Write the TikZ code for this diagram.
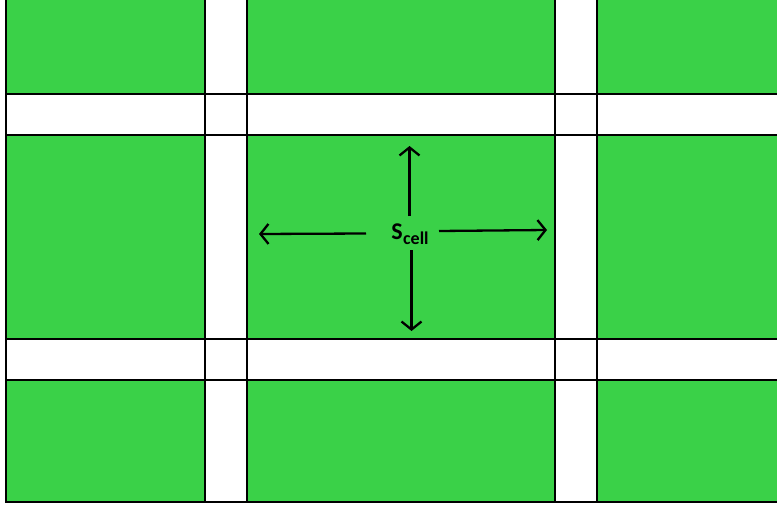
\documentclass[tikz,border=0pt]{standalone}
\usepackage{fontspec}
\setmainfont{Carlito}
\usetikzlibrary{arrows.meta}
\definecolor{cellgreen}{RGB}{58,209,72}
\tikzset{
  gridline/.style={line width=2.8pt, black},
  dimarrow/.style={line width=2.3pt, -{Straight Barb[length=8pt,width=20pt,line width=2.3pt]}},
}
\begin{document}
\begin{tikzpicture}[x=1pt,y=-1pt]
\useasboundingbox (0,0) rectangle (777,511);
% green base
\fill[cellgreen] (6,0) rectangle (777,502);
% white strips
\fill[white] (6,94) rectangle (777,135);
\fill[white] (6,339) rectangle (777,380);
\fill[white] (205,0) rectangle (247,502);
\fill[white] (555,0) rectangle (597,502);
% grid lines
\foreach \yy in {94,135,339,380,502} \draw[gridline] (6,\yy) -- (777,\yy);
\foreach \xx in {205,247,555,597} \draw[gridline] (\xx,0) -- (\xx,502);
\draw[gridline] (6,0) -- (6,503.4);
% label and arrows
\node[font=\bfseries\fontsize{24}{24}\selectfont, inner sep=0pt] (s) at (410,234) {S\kern0.5pt\raisebox{-5pt}{\fontsize{18}{18}\selectfont cell}};
\coordinate (su) at (409.5,216);
\coordinate (tu) at (409.5,146);
\coordinate (sd) at (411.5,250);
\coordinate (td) at (411.5,331);
\coordinate (sl) at (366,233.5);
\coordinate (tl) at (259,234);
\coordinate (sr) at (439,231);
\coordinate (tr) at (547,230);
\draw[dimarrow] (su) -- (tu);
\draw[dimarrow] (sd) -- (td);
\draw[dimarrow] (sl) -- (tl);
\draw[dimarrow] (sr) -- (tr);
\end{tikzpicture}
\end{document}
